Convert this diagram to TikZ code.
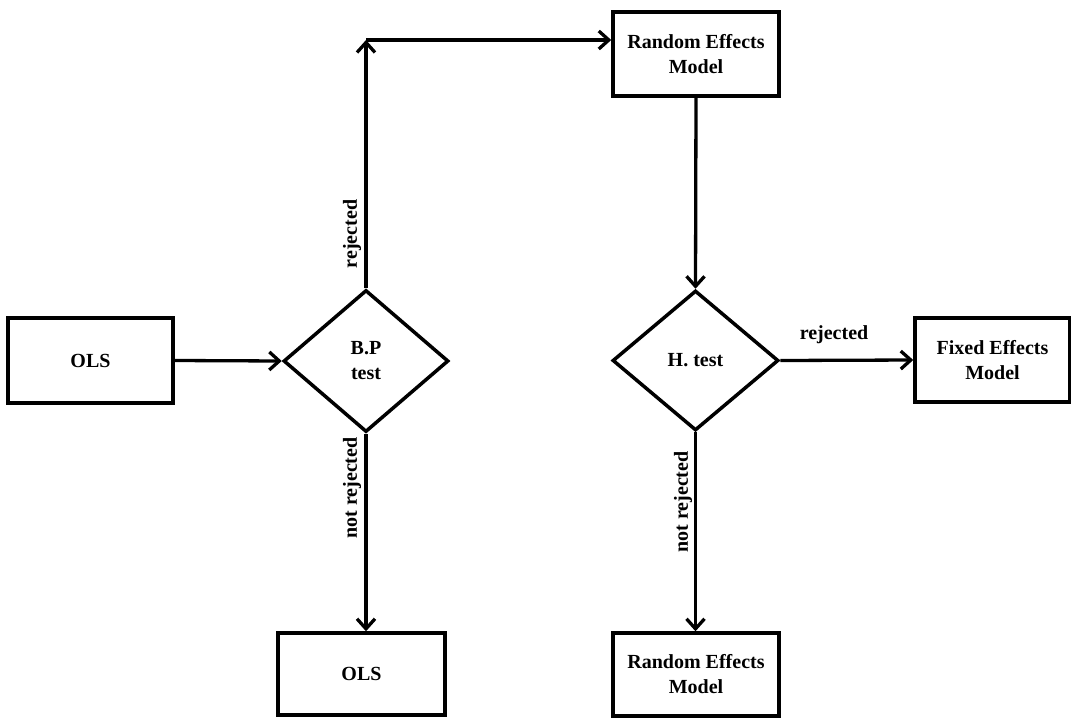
\documentclass[tikz,border=0pt]{standalone}
\usepackage{fontspec}
\setmainfont{Liberation Serif}
\usetikzlibrary{shapes.geometric,arrows.meta}
\begin{document}
\begin{tikzpicture}[x=1pt,y=-1pt,
  every node/.style={font=\fontsize{20}{25}\selectfont\bfseries},
  box/.style={draw,line width=3.5pt,rectangle,inner sep=0pt,align=center},
  dia/.style={draw,line width=3.5pt,diamond,inner sep=0pt,align=center},
  conn/.style={line width=3.3pt,-{Straight Barb[length=10pt,width=18pt,line width=3.3pt]}},
  lbl/.style={inner sep=2pt}]
\useasboundingbox (0,0) rectangle (1071,718);
\node[box,minimum width=165pt,minimum height=85pt] (ols1) at (90.5,360.5) {OLS};
\node[dia,minimum width=165pt,minimum height=142pt] (bp) at (366,361) {B.P\\test};
\node[box,minimum width=166pt,minimum height=84pt] (re1) at (696,54) {Random Effects\\Model};
\node[dia,minimum width=166pt,minimum height=140pt] (ht) at (695.5,360.5) {H. test};
\node[box,minimum width=155pt,minimum height=84pt] (fe) at (992.5,360) {Fixed Effects\\Model};
\node[box,minimum width=167pt,minimum height=82pt] (ols2) at (361.5,674) {OLS};
\node[box,minimum width=166pt,minimum height=83pt] (re2) at (696,674.5) {Random Effects\\Model};
\coordinate (corner) at (366,40);
\draw[conn] (ols1.east) -- (bp.west);
\draw[conn] (bp.north) -- (corner);
\draw[conn] (corner) -- (corner -| re1.west);
\draw[conn] (re1.south) -- (ht.north);
\draw[conn] (ht.east) -- (fe.west);
\draw[conn] (bp.south) -- (bp.south |- ols2.north);
\draw[conn] (ht.south) -- (ht.south |- re2.north);
\node[lbl,rotate=90] (l1) at (352,234) {rejected};
\node[lbl,rotate=90] (l2) at (352,488) {not rejected};
\node[lbl,rotate=90] (l3) at (683,502) {not rejected};
\node[lbl] (l4) at (834,335) {rejected};
\end{tikzpicture}
\end{document}
